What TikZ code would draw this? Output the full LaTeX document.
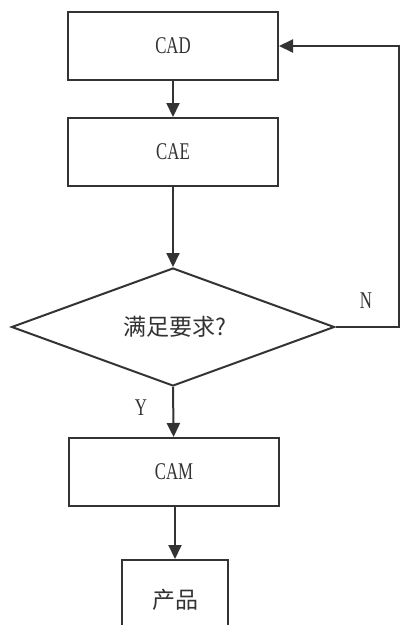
\documentclass[tikz,border=0pt]{standalone}
\usepackage{fontspec}
\setmainfont{Liberation Serif}[FakeStretch=0.7]
\newfontfamily\cjk{Noto Sans CJK SC}
\usetikzlibrary{shapes.geometric,arrows.meta}
\definecolor{ink}{HTML}{333333}
\begin{document}
\begin{tikzpicture}[x=1pt,y=-1pt,
  box/.style={draw=ink,line width=2pt,rectangle,inner sep=0pt,text=ink,font=\fontsize{24}{26}\selectfont},
  decbox/.style={draw=ink,line width=2pt,diamond,inner sep=0pt,text=ink,minimum width=323pt,minimum height=118pt},
  conn/.style={draw=ink,line width=2pt},
  arr/.style={conn,-{Triangle[length=14pt,width=13pt]}},
  lab/.style={text=ink,font=\fontsize{24}{26}\selectfont}]
\clip (0,0) rectangle (401,625);
\fill[white] (0,0) rectangle (401,625);
\node[box,minimum width=210pt,minimum height=68pt] (cad) at (173,46) {CAD};
\node[box,minimum width=210pt,minimum height=68pt] (cae) at (173,152) {CAE};
\node[decbox] (dec) at (173,327) {};
\node[text=ink,font=\cjk\fontsize{23}{26}\selectfont] (dect) at (175,327) {满足要求?};
\node[box,minimum width=210pt,minimum height=68pt] (cam) at (174,472) {CAM};
\node[box,minimum width=106pt,minimum height=90pt,anchor=north] (prod) at (175,559) {};
\node[text=ink,font=\cjk\fontsize{23}{26}\selectfont] (prodt) at (175,600) {产品};
\node[lab] (nl) at (366,301) {N};
\node[lab] (yl) at (141,408) {Y};
\coordinate (r1) at (399,327);
\coordinate (r2) at (399,46);
\draw[arr] (cad) -- (cae);
\draw[arr] (cae) -- (dec.north);
\draw[arr] (dec.south) -- (cam);
\draw[arr] (cam.south -| prod.north) -- (prod.north);
\draw[arr] (dec.east) -- (r1) -- (r2) -- (cad.east);
\end{tikzpicture}
\end{document}
